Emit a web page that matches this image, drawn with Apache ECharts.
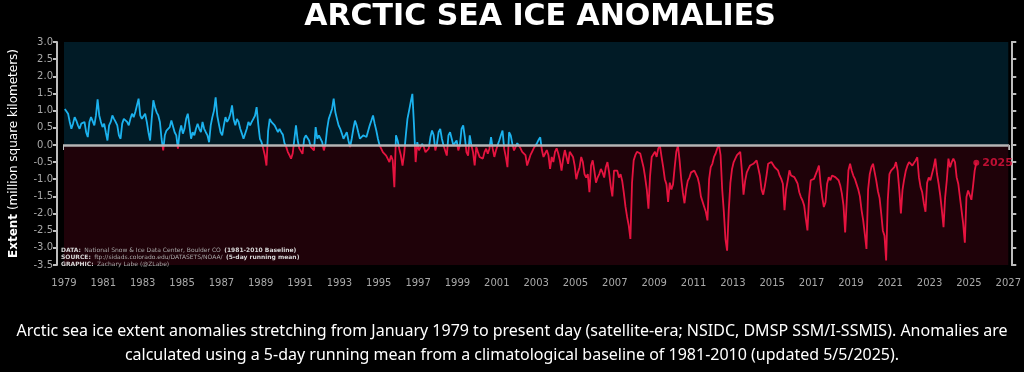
<!DOCTYPE html>
<html>
<head>
<meta charset="utf-8">
<script src="https://cdn.jsdelivr.net/npm/echarts@6/dist/echarts.min.js"></script>
<style>
html,body{margin:0;padding:0;background:#000;}
#c{width:1024px;height:372px;}
</style>
</head>
<body>
<div id="c"></div>
<script>
// ---- DATA (monthly anomalies, million km^2) ----
const startYear = 1979;
const anom1979to1989 = [
  1.05, 1.0, 0.91, 0.67, 0.47, 0.62, 0.81, 0.71, 0.57, 0.47, 0.62, 0.67,
  0.67, 0.37, 0.23, 0.67, 0.81, 0.76, 0.57, 0.86, 1.33, 0.86, 0.67, 0.52,
  0.62, 0.37, 0.13, 0.57, 0.67, 0.86, 0.76, 0.67, 0.57, 0.28, 0.18, 0.62,
  0.76, 0.81, 0.67, 0.57, 0.76, 0.91, 0.81, 0.96, 1.0, 1.35, 0.86, 0.76,
  0.81, 0.91, 0.67, 0.37, 0.13, 0.76, 1.3, 1.1, 0.95, 0.86, 0.67, 0.18,
  -0.16, 0.28, 0.42, 0.37, 0.52, 0.71, 0.67, 0.37, 0.28, -0.11, 0.37, 0.57,
  0.33, 0.47, 0.76, 0.91, 0.57, 0.18, 0.37, 0.28, 0.47, 0.62, 0.47, 0.37,
  0.67, 0.47, 0.37, 0.28, 0.08, 0.57, 0.81, 1.0, 1.39, 0.85, 0.6, 0.37,
  0.28, 0.57, 0.81, 0.67, 0.76, 0.9, 1.15, 0.75, 0.57, 0.76, 0.67, 0.47,
  0.33, 0.18, 0.13, 0.47, 0.67, 0.57, 0.67, 0.76, 0.85, 1.1, 0.6, 0.18,
  0.08, -0.1, -0.3, -0.6, 0.4, 0.76, 0.67, 0.71, 0.57, 0.52, 0.37, 0.47
];
const anom1990to1999 = [
  0.37, 0.3, 0.05, -0.05, -0.2, -0.3, -0.4, -0.25, -0.3, 0.57, 0.15, -0.1,
  -0.11, -0.26, 0.18, 0.28, 0.33, 0.13, -0.06, -0.1, -0.16, 0.52, 0.18, 0.28,
  0.28, 0.08, -0.16, 0.03, 0.47, 0.76, 0.9, 1.05, 1.35, 0.96, 0.76, 0.57,
  0.47, 0.33, 0.18, 0.28, 0.37, 0.13, -0.06, 0.18, 0.47, 0.71, 0.57, 0.37,
  0.18, 0.13, 0.28, 0.33, 0.23, 0.18, 0.57, 0.71, 0.86, 0.62, 0.42, 0.18,
  -0.01, -0.11, -0.21, -0.16, -0.31, -0.35, -0.5, -0.31, -0.45, -1.23, 0.28, 0.13,
  -0.11, -0.31, -0.6, -0.26, 0.28, 0.76, 1.0, 1.25, 1.49, 0.57, -0.5, 0.08,
  -0.16, -0.21, 0.03, -0.06, -0.21, -0.16, -0.11, 0.23, 0.42, 0.28, -0.16, 0.03,
  0.37, 0.47, 0.18, -0.01, -0.16, -0.31, 0.28, 0.37, 0.33, -0.01, 0.03, 0.13,
  -0.16, -0.01, 0.47, 0.57, 0.23, -0.21, -0.31, 0.28, -0.01, -0.21, -0.6, -0.06
];
const anom2000to2009 = [
  -0.21, -0.35, -0.31, -0.4, -0.21, -0.11, -0.26, -0.11, 0.23, -0.11, -0.35, -0.16,
  -0.01, 0.13, 0.28, 0.42, -0.11, -0.35, -0.65, 0.37, 0.28, 0.03, -0.16, -0.06,
  0.05, 0.1, -0.1, -0.2, -0.2, -0.3, -0.6, -0.45, -0.3, -0.2, -0.1, -0.05,
  0.05, 0.15, 0.22, -0.15, -0.35, -0.25, -0.15, -0.3, -0.7, -0.35, -0.5, -0.2,
  -0.1, -0.25, -0.45, -0.75, -0.4, -0.15, -0.1, -0.55, -0.2, -0.15, -0.35, -0.6,
  -1.0, -0.8, -0.65, -0.35, -0.5, -0.85, -0.95, -0.85, -1.38, -0.6, -0.45, -0.75,
  -1.1, -0.95, -0.85, -0.7, -0.8, -0.95, -0.65, -0.5, -0.8, -1.2, -1.5, -0.75,
  -0.7, -0.75, -0.95, -0.85, -1.05, -1.4, -1.8, -2.1, -2.35, -2.74, -1.1, -0.45,
  -0.3, -0.2, -0.2, -0.25, -0.45, -0.65, -0.95, -1.3, -1.86, -0.9, -0.35, -0.3,
  -0.2, -0.35, -0.1, -0.02, -0.35, -0.65, -1.0, -1.15, -1.66, -1.1, -1.3, -1.15
];
const anom2010to2019 = [
  -0.65, -0.2, -0.02, -0.45, -1.0, -1.4, -1.7, -1.3, -1.05, -0.95, -0.8, -0.85,
  -0.75, -0.85, -0.95, -1.15, -1.5, -1.5, -1.8, -1.95, -2.2, -1.0, -0.65, -0.55,
  -0.35, -0.25, -0.1, 0.0, -0.3, -1.3, -1.95, -2.75, -3.08, -1.9, -1.1, -0.7,
  -0.5, -0.4, -0.3, -0.25, -0.2, -0.75, -1.45, -1.05, -0.8, -0.7, -0.6, -0.55,
  -0.55, -0.5, -0.45, -0.5, -0.9, -1.3, -1.45, -1.2, -0.9, -0.55, -0.5, -0.5,
  -0.55, -0.65, -0.6, -0.74, -0.89, -0.99, -1.13, -1.9, -1.3, -1.03, -0.74, -0.89,
  -0.94, -0.94, -1.03, -1.13, -1.38, -1.52, -1.62, -1.77, -2.15, -2.49, -1.52, -1.03,
  -1.03, -0.99, -0.94, -0.74, -0.6, -1.13, -1.52, -1.81, -1.67, -1.13, -0.94, -1.03,
  -0.89, -0.94, -0.94, -0.99, -1.03, -1.18, -1.42, -1.77, -2.55, -1.6, -0.74, -0.55,
  -0.75, -0.9, -1.0, -1.15, -1.3, -1.5, -1.9, -2.2, -2.6, -3.03, -1.3, -0.85
];
const anom2020to2025 = [
  -0.65, -0.55, -0.8, -1.05, -1.35, -1.55, -2.0, -2.5, -2.65, -3.37, -1.6, -0.85,
  -0.75, -0.75, -0.65, -0.5, -0.75, -1.3, -2.0, -1.3, -1.0, -0.75, -0.6, -0.5,
  -0.55, -0.6, -0.65, -0.45, -0.36, -0.94, -1.23, -1.38, -1.7, -1.95, -1.1, -0.95,
  -1.03, -0.84, -0.65, -0.4, -0.84, -1.13, -1.47, -1.91, -2.4, -1.52, -1.03, -0.4,
  -0.65, -0.5, -0.4, -0.5, -0.94, -1.13, -1.52, -1.91, -2.3, -2.85, -1.52, -1.33,
  -1.35, -1.6, -1.2, -0.75, -0.52
];
const endLabel = '2025';
const titleText = 'ARCTIC SEA ICE ANOMALIES';
const yAxisName = 'Extent';
const yAxisUnit = '(million square kilometers)';
const captionLine1 = 'Arctic sea ice extent anomalies stretching from January 1979 to present day (satellite-era; NSIDC, DMSP SSM/I-SSMIS). Anomalies are';
const captionLine2 = 'calculated using a 5-day running mean from a climatological baseline of 1981-2010 (updated 5/5/2025).';

// ---- BUILD ----
const anomalies = [].concat(anom1979to1989, anom1990to1999, anom2000to2009, anom2010to2019, anom2020to2025);
const seriesData = anomalies.map((v, i) => [startYear + (i + 0.5) / 12, v]);
const lastPoint = seriesData[seriesData.length - 1];

const BLUE = '#1bb2ee';
const RED = '#e6133f';
const AXIS = '#bdbdbd';
const TICKLBL = '#a9a9a9';
const FONT = 'DejaVu Sans';

const chart = echarts.init(document.getElementById('c'), null, {renderer: 'canvas'});
chart.setOption({
  backgroundColor: '#000',
  animation: false,
  grid: {left: 60, right: 12, top: 42, bottom: 107, containLabel: false},
  xAxis: {
    type: 'value', min: 1979, max: 2027, interval: 2, offset: 7,
    axisLine: {show: true, lineStyle: {color: AXIS, width: 2}},
    axisTick: {show: true, length: 5, lineStyle: {color: AXIS, width: 2}},
    axisLabel: {color: TICKLBL, fontSize: 10, margin: 6, fontFamily: FONT, formatter: v => String(v)},
    splitLine: {show: false}
  },
  yAxis: [{
    type: 'value', min: -3.5, max: 3, interval: 0.5, position: 'left', offset: 7,
    axisLine: {show: true, lineStyle: {color: AXIS, width: 2}},
    axisTick: {show: true, length: 4, lineStyle: {color: AXIS, width: 2}},
    axisLabel: {color: TICKLBL, fontSize: 10, margin: 4, fontFamily: FONT, formatter: v => v.toFixed(1)},
    splitLine: {show: false},
    name: '{b|' + yAxisName + '} ' + yAxisUnit,
    nameLocation: 'middle', nameRotate: 90, nameGap: 37,
    nameTextStyle: {color: '#fff', fontSize: 12, fontFamily: FONT,
      rich: {b: {fontWeight: 'bold', color: '#fff', fontSize: 12, fontFamily: FONT}}}
  }, {
    type: 'value', min: -3.5, max: 3, interval: 0.5, position: 'right', offset: 3,
    axisLine: {show: true, lineStyle: {color: AXIS, width: 2}},
    axisTick: {show: true, length: 5, lineStyle: {color: AXIS, width: 2}},
    axisLabel: {show: false},
    splitLine: {show: false}
  }],
  visualMap: {
    type: 'piecewise', show: false, seriesIndex: 1, dimension: 1,
    pieces: [{gt: 0, lte: 10, color: BLUE}, {gt: -10, lte: 0, color: RED}],
    outOfRange: {color: RED}
  },
  series: [
    {
      name: 'bg', type: 'line', data: [[1979, null]], z: 1, silent: true,
      lineStyle: {opacity: 0}, symbol: 'none',
      markArea: {
        silent: true,
        data: [
          [{yAxis: 0, itemStyle: {color: '#011b26'}}, {yAxis: 3}],
          [{yAxis: -3.5, itemStyle: {color: '#1f0209'}}, {yAxis: 0}]
        ]
      }
    },
    {
      name: 'anomaly', type: 'line', data: seriesData, z: 3,
      symbol: 'none', showSymbol: false,
      lineStyle: {width: 1.8}
    },
    {
      name: 'zero', type: 'line', data: [[1979, null]], z: 4, silent: true,
      lineStyle: {opacity: 0}, symbol: 'none',
      markLine: {
        silent: true, symbol: 'none', label: {show: false},
        lineStyle: {color: '#b5b5b5', width: 2.5, type: 'solid'},
        data: [{yAxis: 0}]
      }
    },
    {
      name: 'end', type: 'scatter', data: [lastPoint], z: 5,
      symbolSize: 6, itemStyle: {color: RED},
      label: {show: true, position: 'right', distance: 3, formatter: endLabel,
        color: RED, fontSize: 11, fontWeight: 'bold', fontFamily: FONT}
    }
  ],
  graphic: [
    {type: 'text', x: 540, y: 2, z: 10, style: {
      text: titleText, fill: '#fff', fontSize: 30, fontWeight: 'bold', fontFamily: FONT,
      textAlign: 'center', textVerticalAlign: 'top'
    }},
    {type: 'text', left: 61, top: 244, z: 10, style: {
      text: '{b|DATA:} {n|National Snow & Ice Data Center, Boulder CO} {b|(1981-2010 Baseline)}\n{b|SOURCE:} {n|ftp://sidads.colorado.edu/DATASETS/NOAA/} {b|(5-day running mean)}\n{b|GRAPHIC:} {n|Zachary Labe (@ZLabe)}',
      lineHeight: 7,
      rich: {
        b: {fontWeight: 'bold', fill: '#d8d8d8', fontSize: 6, fontFamily: FONT, lineHeight: 7},
        n: {fill: '#a8a8a8', fontSize: 6, fontFamily: FONT, lineHeight: 7}
      }
    }},
    {type: 'text', left: 'center', top: 323, style: {
      text: captionLine1, fill: '#fff', fontSize: 16, fontFamily: 'Noto Sans'
    }},
    {type: 'text', left: 'center', top: 347, style: {
      text: captionLine2, fill: '#fff', fontSize: 16, fontFamily: 'Noto Sans'
    }}
  ]
});
</script>
</body>
</html>
